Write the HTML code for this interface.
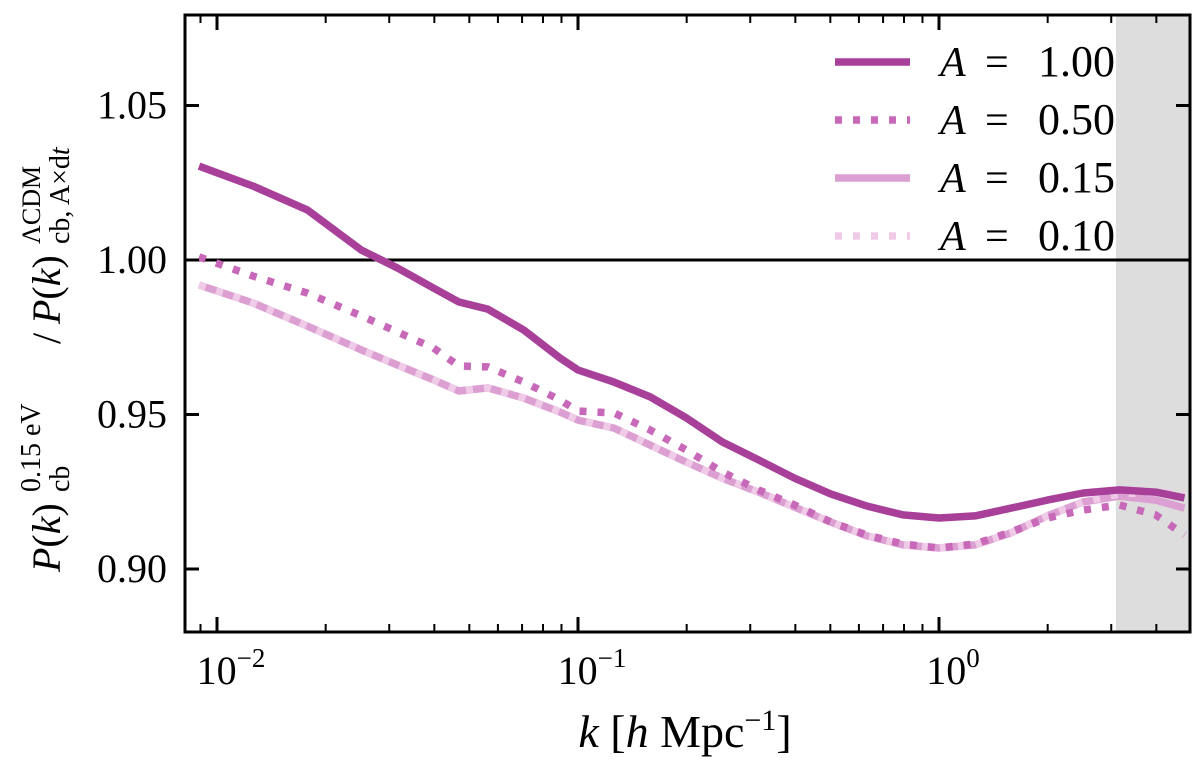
<!DOCTYPE html>
<html><head><meta charset="utf-8"><style>
body{margin:0;background:#fff;}
svg text{font-family:"Liberation Serif","DejaVu Serif",serif;fill:#000;}
</style></head><body>
<svg id="chart" width="1200" height="761" xmlns="http://www.w3.org/2000/svg">
<rect x="0" y="0" width="1200" height="761" fill="#fff"/>
<g id="plot"></g>
</svg>
<script>
const kLog = [-2.05,-1.9,-1.75,-1.6,-1.5,-1.4,-1.33,-1.25,-1.15,-1.05,-1.0,-0.9,-0.8,-0.7,-0.6,-0.5,-0.4,-0.3,-0.2,-0.1,0,0.1,0.2,0.3,0.4,0.5,0.6,0.68];
const seriesA100 = [1.0304,1.0239,1.0162,1.0032,0.9974,0.9909,0.9864,0.9841,0.9773,0.9683,0.9644,0.9605,0.9557,0.9489,0.9411,0.9353,0.9294,0.9243,0.9204,0.9175,0.9165,0.9172,0.9197,0.9223,0.9246,0.9256,0.9249,0.9230];
const seriesA050 = [1.001,0.9948,0.9893,0.9819,0.9767,0.9715,0.9657,0.9654,0.9605,0.9547,0.9511,0.9505,0.945,0.9385,0.9314,0.9256,0.9207,0.9152,0.911,0.9081,0.9068,0.9081,0.912,0.9165,0.9191,0.9207,0.9175,0.911];
const seriesA015 = [0.9919,0.9861,0.9786,0.9709,0.966,0.9612,0.9576,0.9586,0.9553,0.9508,0.9482,0.9456,0.9401,0.9346,0.9294,0.9249,0.92,0.9152,0.9107,0.9078,0.9068,0.9078,0.9117,0.9172,0.9217,0.9236,0.9223,0.9197];
const seriesA010 = [0.9919,0.9861,0.9786,0.9709,0.966,0.9612,0.9576,0.9586,0.9553,0.9508,0.9482,0.9456,0.9401,0.9346,0.9294,0.9249,0.92,0.9152,0.9107,0.9078,0.9068,0.9078,0.9117,0.9172,0.9217,0.9243,0.9249,0.9243];
const legendLabels = ["1.00","0.50","0.15","0.10"];
const yTicks = [0.90,0.95,1.00,1.05];
const yTickLabels = ["0.90","0.95","1.00","1.05"];
const xDecades = [-2,-1,0];
const xDecadeExps = ["\u22122","\u22121","0"];
const shadeStartLog = 0.49;

const L=185,R=1190,T=15,B=632;
function xs(lg){return 939+(lg)*361;}
function ys(v){return 260-(v-1.0)/0.05*154.5;}
const NS="http://www.w3.org/2000/svg";
const g=document.getElementById('plot');
function mk(tag,attrs,parent){const e=document.createElementNS(NS,tag);for(const k in attrs)e.setAttribute(k,attrs[k]);(parent||g).appendChild(e);return e;}

const shade=mk('rect',{x:xs(shadeStartLog),y:T,width:R-xs(shadeStartLog),height:B-T,fill:'#dddddd'});



const ref=mk('line',{x1:L,x2:R,y1:ys(1),y2:ys(1),stroke:'#000','stroke-width':3});



const styles=[
 {data:seriesA100,color:'#a8409a',dash:null,name:'series-a-1-00'},
 {data:seriesA050,color:'#c868b8',dash:'7 11',name:'series-a-0-50'},
 {data:seriesA015,color:'#dc9fd2',dash:null,name:'series-a-0-15'},
 {data:seriesA010,color:'#efcbe8',dash:'7 11',name:'series-a-0-10'}
];
const order=[2,3,1,0];
for(const i of order){const s=styles[i];
 const d=s.data.map((v,j)=>(j?'L':'M')+xs(kLog[j]).toFixed(1)+','+ys(v).toFixed(1)).join(' ');
 const p=mk('path',{d:d,fill:'none',stroke:s.color,'stroke-width':7.5,'stroke-linejoin':'round'});
 if(s.dash)p.setAttribute('stroke-dasharray',s.dash);
 
 
}

yTicks.forEach((v,i)=>{const y=ys(v);
 mk('line',{x1:L,x2:L+14,y1:y,y2:y,stroke:'#000','stroke-width':3});
 mk('line',{x1:R-14,x2:R,y1:y,y2:y,stroke:'#000','stroke-width':3});
 const t=mk('text',{x:L-18,y:y+13,'font-size':40,'text-anchor':'end'});t.textContent=yTickLabels[i];
 
 
});
for(let dec=-3;dec<=0;dec++){for(let m=1;m<10;m++){const lg=dec+Math.log10(m);const x=xs(lg);if(x<L+1||x>R-1)continue;
 const len=m===1?15:8;
 mk('line',{x1:x,x2:x,y1:B,y2:B-len,stroke:'#000','stroke-width':m===1?3:2});
 mk('line',{x1:x,x2:x,y1:T,y2:T+len,stroke:'#000','stroke-width':m===1?3:2});
}}
xDecades.forEach((d,i)=>{const t=mk('text',{x:xs(d)+14,y:684,'font-size':40,'text-anchor':'middle'});
 
 
 const a=document.createElementNS(NS,'tspan');a.textContent='10';t.appendChild(a);
 const b=document.createElementNS(NS,'tspan');b.setAttribute('dy','-17');b.setAttribute('font-size','27');b.textContent=xDecadeExps[i];t.appendChild(b);
});
const frame=mk('rect',{x:L,y:T,width:R-L,height:B-T,fill:'none',stroke:'#000','stroke-width':3});



styles.forEach((s,i)=>{const y=62+i*58;
 const ln=mk('line',{x1:835,x2:910,y1:y,y2:y,stroke:s.color,'stroke-width':7.5});
 if(s.dash)ln.setAttribute('stroke-dasharray',s.dash);
 
 
 const lg=mk('g',{});
 
 
 const a=mk('text',{x:940,y:y+14,'font-size':42,'font-style':'italic'},lg);a.textContent='A';
 const e=mk('text',{x:985,y:y+14,'font-size':42},lg);e.textContent='=';
 const n=mk('text',{x:1115,y:y+14,'font-size':44,'text-anchor':'end'},lg);n.textContent=legendLabels[i];
});

const xt=mk('text',{x:685,y:747,'font-size':46,'text-anchor':'middle'});


xt.innerHTML='<tspan font-style="italic">k</tspan> [<tspan font-style="italic">h</tspan> Mpc<tspan dy="-17" font-size="30">\u22121</tspan><tspan dy="17">]</tspan>';

const yg=mk('g',{transform:'translate(60,572) rotate(-90)'});


function yt(x,y,size,html){const t=mk('text',{x:x,y:y,'font-size':size},yg);t.innerHTML=html;return t;}
yt(0,0,40,'<tspan font-style="italic">P</tspan>(<tspan font-style="italic">k</tspan>)');
yt(80,9,28,'cb');
yt(80,-20,28,'0.15 eV');
yt(228,0,40,'/');
yt(248,0,40,'<tspan font-style="italic">P</tspan>(<tspan font-style="italic">k</tspan>)');
yt(328,9,28,'cb, A\u00d7d<tspan font-style="italic">t</tspan>');
yt(328,-20,26,'\u039bCDM');
</script>
</body></html>
